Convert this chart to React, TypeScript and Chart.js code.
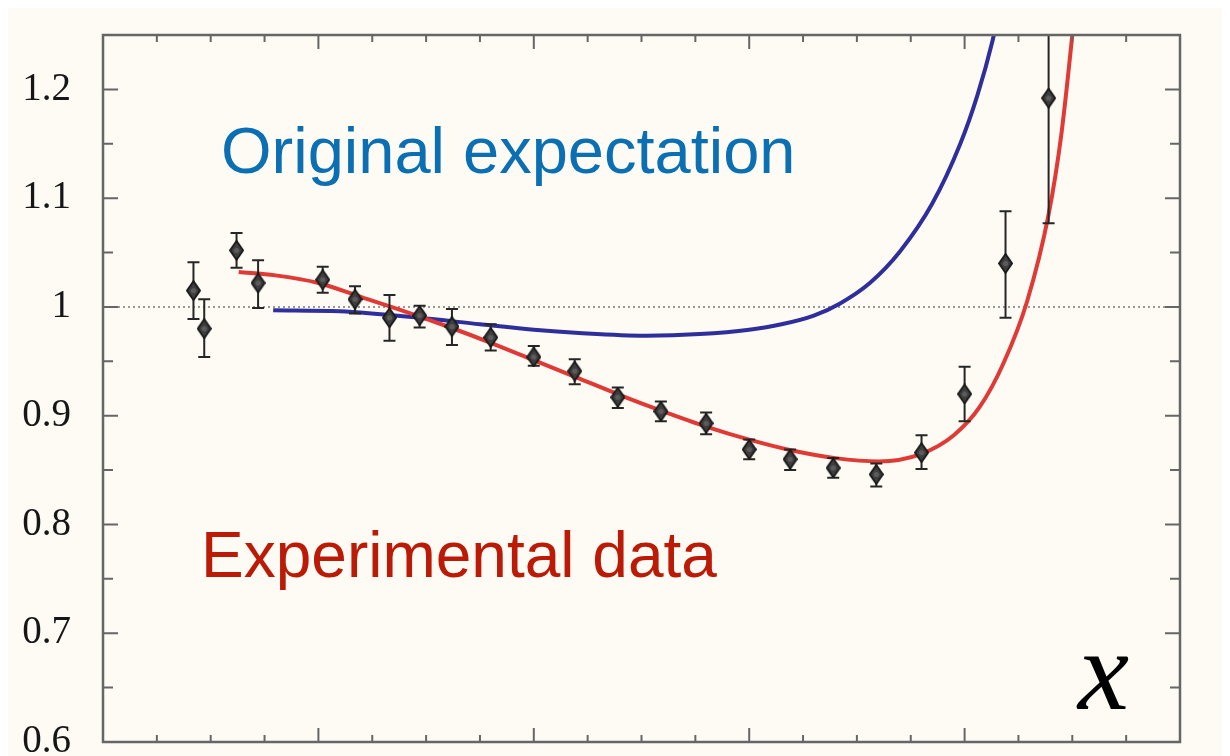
import React, { useEffect, useRef } from "react";
import { Chart, registerables } from "chart.js";

Chart.register(...registerables);

// Measured points with asymmetric uncertainty bounds
const pointX = [0.42, 0.47, 0.62, 0.72, 1.02, 1.17, 1.33, 1.47, 1.62, 1.8, 2.0, 2.19, 2.39, 2.59, 2.8, 3.0, 3.19, 3.39, 3.59, 3.8, 4.0, 4.19, 4.39];
const pointY = [1.015, 0.98, 1.052, 1.022, 1.025, 1.007, 0.99, 0.992, 0.982, 0.972, 0.954, 0.941, 0.917, 0.904, 0.893, 0.869, 0.86, 0.852, 0.846, 0.866, 0.92, 1.04, 1.192];
const pointLow = [0.989, 0.954, 1.036, 0.999, 1.013, 0.994, 0.969, 0.981, 0.965, 0.96, 0.946, 0.929, 0.907, 0.895, 0.883, 0.86, 0.85, 0.843, 0.835, 0.851, 0.895, 0.99, 1.077];
const pointHigh = [1.041, 1.007, 1.068, 1.043, 1.037, 1.019, 1.011, 1.001, 0.998, 0.984, 0.964, 0.952, 0.926, 0.913, 0.903, 0.878, 0.869, 0.861, 0.856, 0.882, 0.945, 1.088, 1.3];

// Fit through the measurements
const fitX = [0.63, 0.8, 1.0, 1.2, 1.4, 1.6, 1.8, 2.0, 2.2, 2.4, 2.6, 2.8, 3.0, 3.2, 3.4, 3.6, 3.8, 3.95, 4.07, 4.18, 4.29, 4.39, 4.45, 4.5, 4.56];
const fitY = [1.032, 1.029, 1.022, 1.009, 0.996, 0.982, 0.967, 0.951, 0.935, 0.919, 0.904, 0.89, 0.878, 0.868, 0.861, 0.858, 0.865, 0.882, 0.908, 0.948, 1.005, 1.085, 1.16, 1.25, 1.37];

// Prediction curve
const expectX = [0.79, 1.1, 1.47, 1.75, 2.0, 2.21, 2.52, 2.77, 3.0, 3.15, 3.3, 3.42, 3.56, 3.7, 3.85, 3.98, 4.06, 4.13, 4.19];
const expectY = [0.997, 0.996, 0.99, 0.984, 0.979, 0.976, 0.9735, 0.975, 0.979, 0.984, 0.992, 1.003, 1.022, 1.051, 1.095, 1.15, 1.195, 1.245, 1.3];

const referenceLevel = 1;
const yTickValues = [0.6, 0.7, 0.8, 0.9, 1, 1.1, 1.2];
const yTickLabels = ["0.6", "0.7", "0.8", "0.9", "1", "1.1", "1.2"];

const X_MIN = 0;
const X_MAX = 5;
const Y_MIN = 0.6;
const Y_MAX = 1.25;

function makeDiamond(): HTMLCanvasElement {
  const c = document.createElement("canvas");
  c.width = 15;
  c.height = 21;
  const g = c.getContext("2d")!;
  g.beginPath();
  g.moveTo(7.5, 1);
  g.lineTo(14, 10.5);
  g.lineTo(7.5, 20);
  g.lineTo(1, 10.5);
  g.closePath();
  g.fillStyle = "#3e3e3e";
  g.fill();
  g.lineWidth = 1.8;
  g.strokeStyle = "#191919";
  g.stroke();
  g.beginPath();
  g.arc(7.5, 10.5, 2.6, 0, Math.PI * 2);
  g.fillStyle = "#5c5c5c";
  g.fill();
  return c;
}

const errorBars = {
  id: "errorBars",
  beforeDatasetDraw(chart: any, args: any) {
    if (args.index !== 0) return;
    const { ctx, chartArea, scales } = chart;
    const xs = scales.x;
    const ys = scales.y;
    ctx.save();
    ctx.beginPath();
    ctx.rect(chartArea.left, chartArea.top, chartArea.right - chartArea.left, chartArea.bottom - chartArea.top);
    ctx.clip();
    ctx.strokeStyle = "#262626";
    ctx.lineWidth = 2;
    for (let i = 0; i < pointX.length; i++) {
      const x = xs.getPixelForValue(pointX[i]);
      const yl = ys.getPixelForValue(pointLow[i]);
      const yh = ys.getPixelForValue(pointHigh[i]);
      ctx.beginPath();
      ctx.moveTo(x, yl);
      ctx.lineTo(x, yh);
      ctx.moveTo(x - 6, yl);
      ctx.lineTo(x + 6, yl);
      ctx.moveTo(x - 6, yh);
      ctx.lineTo(x + 6, yh);
      ctx.stroke();
    }
    ctx.restore();
  },
};

const frame = {
  id: "frame",
  afterDraw(chart: any) {
    const { ctx, chartArea, scales } = chart;
    const { left, right, top, bottom } = chartArea;
    const xs = scales.x;
    const ys = scales.y;
    ctx.save();
    ctx.strokeStyle = "#666";
    ctx.lineWidth = 2;
    // inward ticks on all four sides
    for (let k = 0; k <= 20; k++) {
      const v = X_MIN + k * 0.25;
      const px = xs.getPixelForValue(v);
      const len = k % 4 === 0 ? 14 : 7;
      ctx.beginPath();
      ctx.moveTo(px, bottom);
      ctx.lineTo(px, bottom - len);
      ctx.moveTo(px, top);
      ctx.lineTo(px, top + len);
      ctx.stroke();
    }
    for (let k = 0; k <= 13; k++) {
      const v = Y_MIN + k * 0.05;
      const py = ys.getPixelForValue(v);
      const len = k % 2 === 0 ? 15 : 10;
      ctx.beginPath();
      ctx.moveTo(left, py);
      ctx.lineTo(left + len, py);
      ctx.moveTo(right, py);
      ctx.lineTo(right - len, py);
      ctx.stroke();
    }
    ctx.lineWidth = 2.5;
    ctx.strokeRect(left, top, right - left, bottom - top);

    // y tick labels
    ctx.fillStyle = "#161616";
    ctx.font = "39px 'Liberation Serif', 'DejaVu Serif', serif";
    ctx.textAlign = "right";
    ctx.textBaseline = "middle";
    yTickValues.forEach((v, i) => {
      ctx.fillText(yTickLabels[i], left - 32, ys.getPixelForValue(v));
    });

    // annotations
    ctx.textAlign = "left";
    ctx.textBaseline = "alphabetic";
    ctx.font = "65px 'Liberation Sans', Arial, sans-serif";
    ctx.fillStyle = "#0b6fb4";
    ctx.fillText("Original expectation", 213, 165);
    ctx.font = "64px 'Liberation Sans', Arial, sans-serif";
    ctx.fillStyle = "#bb1a06";
    ctx.fillText("Experimental data", 193, 569);

    ctx.fillStyle = "#000";
    ctx.font = "italic 115px 'Liberation Serif', 'DejaVu Serif', serif";
    ctx.fillText("x", 1070, 701);
    ctx.restore();
  },
};

export default function App() {
  const canvasRef = useRef<HTMLCanvasElement | null>(null);

  useEffect(() => {
    document.documentElement.style.overflow = "hidden";
    document.body.style.overflow = "hidden";
    const canvas = canvasRef.current;
    if (!canvas) return;
    const diamond = makeDiamond();

    const chart = new Chart(canvas, {
      type: "scatter",
      data: {
        datasets: [
          {
            label: "Experimental data",
            data: pointX.map((x, i) => ({ x, y: pointY[i] })),
            pointStyle: diamond as any,
            pointRadius: 7,
            showLine: false,
          },
          {
            label: "Fit",
            type: "line",
            data: fitX.map((x, i) => ({ x, y: fitY[i] })),
            borderColor: "#df3a36",
            borderWidth: 4,
            pointRadius: 0,
            cubicInterpolationMode: "monotone",
            fill: false,
            clip: 0,
          },
          {
            label: "Original expectation",
            type: "line",
            data: expectX.map((x, i) => ({ x, y: expectY[i] })),
            borderColor: "#2e2f9c",
            borderWidth: 4,
            pointRadius: 0,
            cubicInterpolationMode: "monotone",
            fill: false,
            clip: 0,
          },
          {
            label: "Reference",
            type: "line",
            data: [
              { x: X_MIN, y: referenceLevel },
              { x: X_MAX, y: referenceLevel },
            ],
            borderColor: "#7a7a7a",
            borderWidth: 1.5,
            borderDash: [2, 3],
            pointRadius: 0,
            fill: false,
          },
        ] as any,
      },
      options: {
        animation: false,
        responsive: true,
        maintainAspectRatio: false,
        layout: { padding: { left: 95, right: 50, top: 27, bottom: 14 } },
        plugins: {
          legend: { display: false },
          tooltip: { enabled: false },
        },
        scales: {
          x: { type: "linear", min: X_MIN, max: X_MAX, display: false },
          y: { type: "linear", min: Y_MIN, max: Y_MAX, display: false },
        },
      },
      plugins: [errorBars, frame],
    });

    return () => chart.destroy();
  }, []);

  return (
    <div style={{ width: 1222, height: 748, background: "#fdfbf3", position: "relative" }}>
      <canvas ref={canvasRef} />
    </div>
  );
}
